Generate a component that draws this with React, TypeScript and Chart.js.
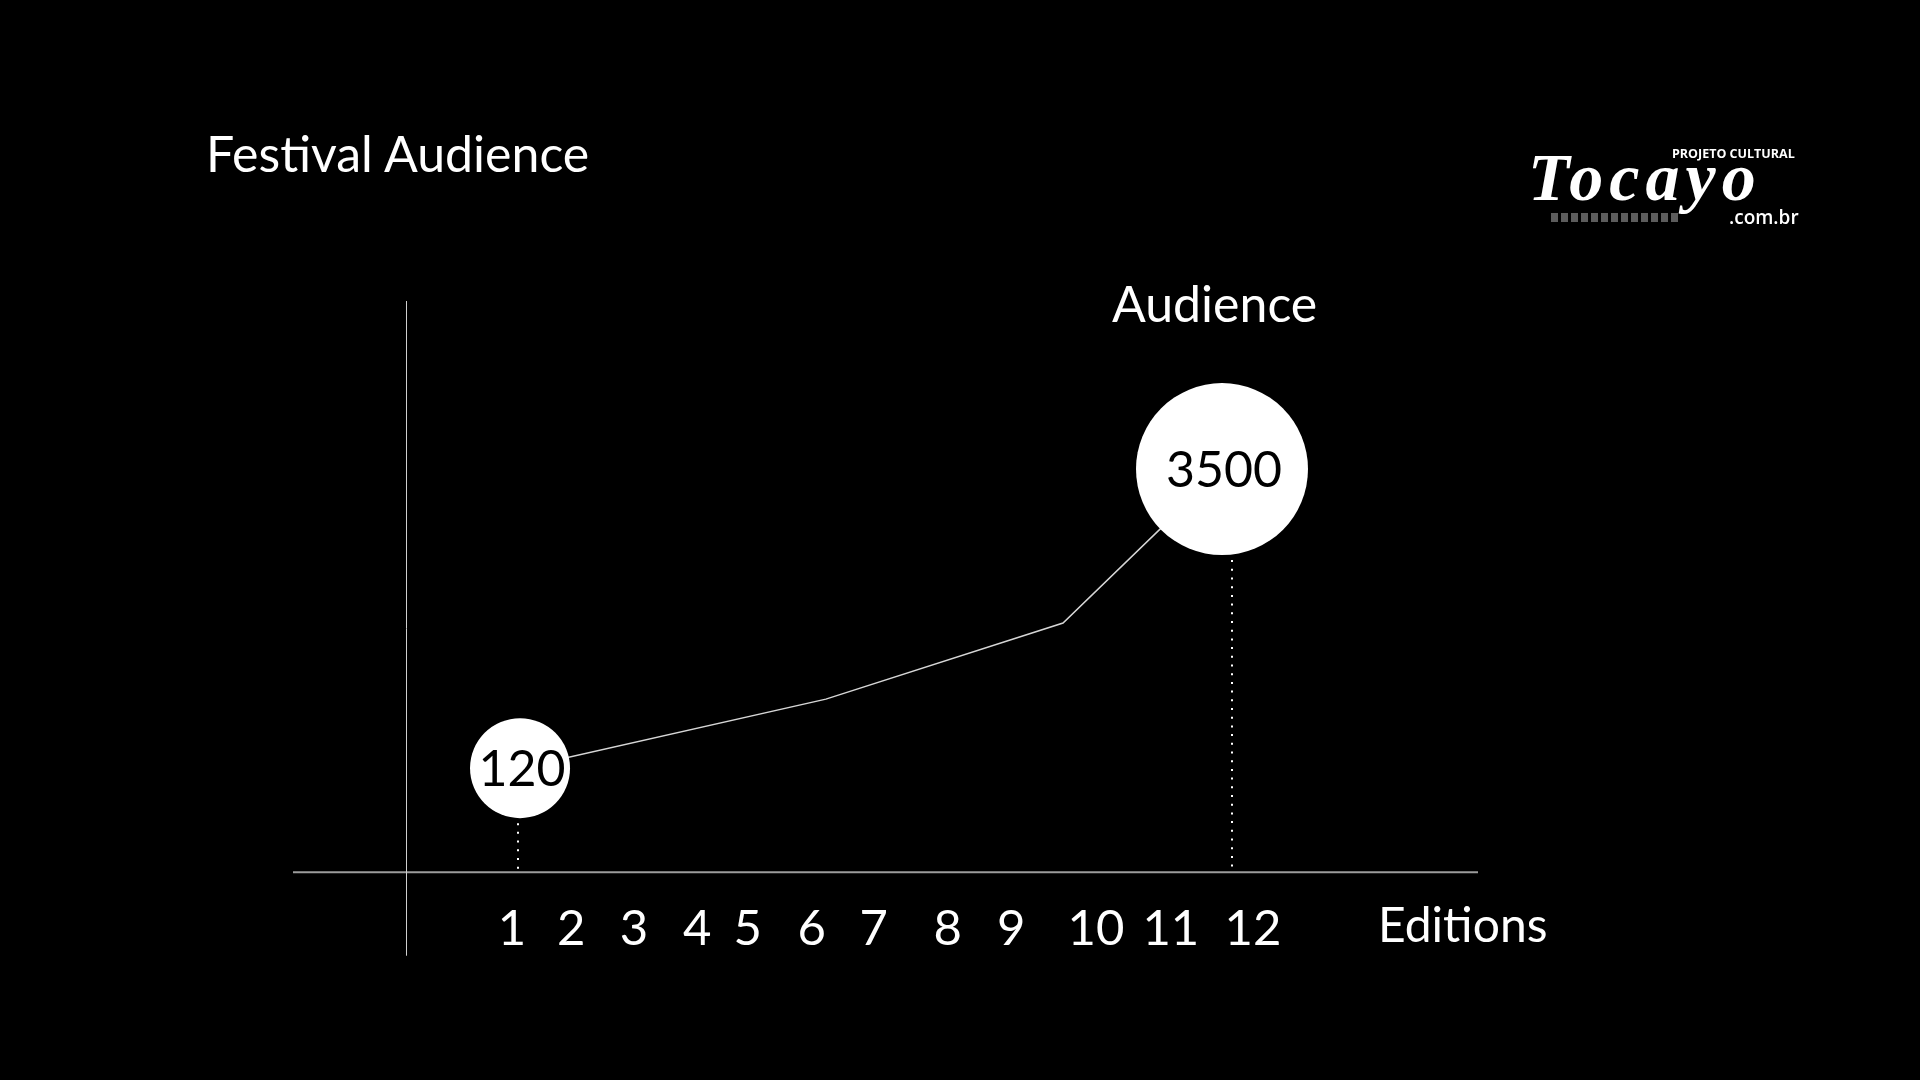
import React, { useEffect, useRef } from 'react';
import { Chart, registerables } from 'chart.js';

Chart.register(...registerables);

// ---- data ----
const editionLabels = ['1', '2', '3', '4', '5', '6', '7', '8', '9', '10', '11', '12'];
const editionTickX = [1.0, 1.88, 2.81, 3.75, 4.5, 5.45, 6.37, 7.47, 8.41, 9.67, 10.78, 12.0];
const audienceX = [1.12, 5.66, 9.18, 11.54];
const audienceValues = [120, 900, 1760, 3500];
const labelledPoint = [true, false, false, true];

const FONT = 'Lato, "Open Sans", sans-serif';

const overlayPlugin = {
  id: 'overlay',
  beforeDatasetsDraw(chart: any) {
    const { ctx, chartArea: a, scales } = chart;
    const x = scales.x;
    const y = scales.y;
    ctx.save();
    // horizontal axis
    ctx.strokeStyle = '#9c9c9c';
    ctx.lineWidth = 2;
    ctx.beginPath();
    ctx.moveTo(a.left, a.bottom);
    ctx.lineTo(a.right, a.bottom);
    ctx.stroke();
    // vertical axis
    const vx = Math.round(x.getPixelForValue(-0.566)) + 0.5;
    ctx.strokeStyle = '#cfcfcf';
    ctx.lineWidth = 1;
    ctx.beginPath();
    ctx.moveTo(vx, a.top);
    ctx.lineTo(vx, y.getPixelForValue(-2000));
    ctx.stroke();
    // dotted drop lines
    const meta = chart.getDatasetMeta(0);
    ctx.strokeStyle = '#ffffff';
    ctx.lineWidth = 2;
    ctx.setLineDash([2, 6.7]);
    meta.data.forEach((pt: any, i: number) => {
      if (!labelledPoint[i]) return;
      const r = pt.options.radius;
      const px = Math.round(pt.x) + (r > 60 ? 10 : -2);
      ctx.beginPath();
      ctx.moveTo(px, pt.y + r + 5);
      ctx.lineTo(px, a.bottom);
      ctx.stroke();
    });
    ctx.restore();
  },
  afterDatasetsDraw(chart: any) {
    const { ctx, chartArea: a } = chart;
    const meta = chart.getDatasetMeta(0);
    ctx.save();
    ctx.font = `400 50px ${FONT}`;
    ctx.fillStyle = '#000000';
    ctx.textAlign = 'center';
    ctx.textBaseline = 'alphabetic';
    meta.data.forEach((pt: any, i: number) => {
      if (!labelledPoint[i]) return;
      ctx.fillText(String(audienceValues[i]), pt.x + 2, pt.y + 18);
    });
    // axis titles
    ctx.fillStyle = '#ffffff';
    ctx.font = `400 50px ${FONT}`;
    ctx.textAlign = 'left';
    ctx.fillText('Audience', a.right - 366, a.top + 21);
    ctx.font = `400 48px ${FONT}`;
    ctx.fillText('Editions', a.right - 100, a.bottom + 70);
    ctx.restore();
  },
};

export default function App() {
  const canvasRef = useRef<HTMLCanvasElement | null>(null);

  useEffect(() => {
    const canvas = canvasRef.current;
    if (!canvas) return;
    Chart.defaults.font.family = FONT;
    const chart = new Chart(canvas, {
      type: 'line',
      data: {
        datasets: [
          {
            label: 'Audience',
            data: audienceX.map((xv, i) => ({ x: xv, y: audienceValues[i] })),
            borderColor: '#d6d6d6',
            borderWidth: 1.5,
            tension: 0,
            pointRadius: [50, 0, 0, 86],
            pointHoverRadius: [50, 0, 0, 86],
            pointBackgroundColor: '#ffffff',
            pointBorderWidth: 0,
            clip: false,
          } as any,
        ],
      },
      options: {
        animation: false,
        responsive: false,
        devicePixelRatio: 1,
        layout: { padding: { left: 293, right: 442, top: 301, bottom: 93 } },
        plugins: {
          legend: { display: false },
          tooltip: { enabled: false },
          title: { display: false },
        },
        events: [],
        scales: {
          x: {
            type: 'linear',
            min: -2.25,
            max: 15.34,
            grid: { display: false, drawTicks: false },
            border: { display: false },
            afterBuildTicks: (scale: any) => {
              scale.ticks = editionTickX.map((v) => ({ value: v }));
            },
            ticks: {
              color: '#ffffff',
              padding: 28,
              autoSkip: false,
              maxRotation: 0,
              font: { size: 49, weight: 400, lineHeight: 1.2 },
              callback: (_v: any, i: number) => editionLabels[i],
            },
          },
          y: {
            type: 'linear',
            display: false,
            min: -1056,
            max: 5400,
          },
        },
      },
      plugins: [overlayPlugin],
    });
    return () => chart.destroy();
  }, []);

  return (
    <div
      style={{
        position: 'fixed',
        left: 0,
        top: 0,
        width: 1920,
        height: 1080,
        background: '#000000',
        overflow: 'hidden',
      }}
    >
      <canvas ref={canvasRef} width={1920} height={1080} style={{ display: 'block' }} />
      <div
        style={{
          position: 'absolute',
          left: 206,
          top: 128,
          fontFamily: FONT,
          fontSize: 50,
          lineHeight: '50px',
          color: '#ffffff',
          whiteSpace: 'nowrap',
        }}
      >
        Festival Audience
      </div>
      <div
        style={{
          position: 'absolute',
          left: 1528,
          top: 143,
          fontFamily: '"Liberation Serif", "DejaVu Serif", serif',
          fontStyle: 'italic',
          fontWeight: 700,
          fontSize: 68,
          lineHeight: '68px',
          letterSpacing: 6,
          color: '#ffffff',
          whiteSpace: 'nowrap',
        }}
      >
        Tocayo
      </div>
      <div
        style={{
          position: 'absolute',
          left: 1672,
          top: 148,
          fontFamily: '"Open Sans", sans-serif',
          fontWeight: 700,
          fontSize: 12.5,
          lineHeight: '12.5px',
          color: '#ffffff',
          whiteSpace: 'nowrap',
        }}
      >
        PROJETO CULTURAL
      </div>
      <div
        style={{
          position: 'absolute',
          left: 1551,
          top: 213,
          width: 128,
          height: 9,
          opacity: 0.6,
          background: 'repeating-linear-gradient(90deg, #9a9a9a 0 7px, transparent 7px 10px)',
        }}
      />
      <div
        style={{
          position: 'absolute',
          left: 1729,
          top: 208,
          fontFamily: '"Open Sans", sans-serif',
          fontWeight: 600,
          fontSize: 19,
          lineHeight: '19px',
          color: '#ffffff',
          whiteSpace: 'nowrap',
        }}
      >
        .com.br
      </div>
    </div>
  );
}
